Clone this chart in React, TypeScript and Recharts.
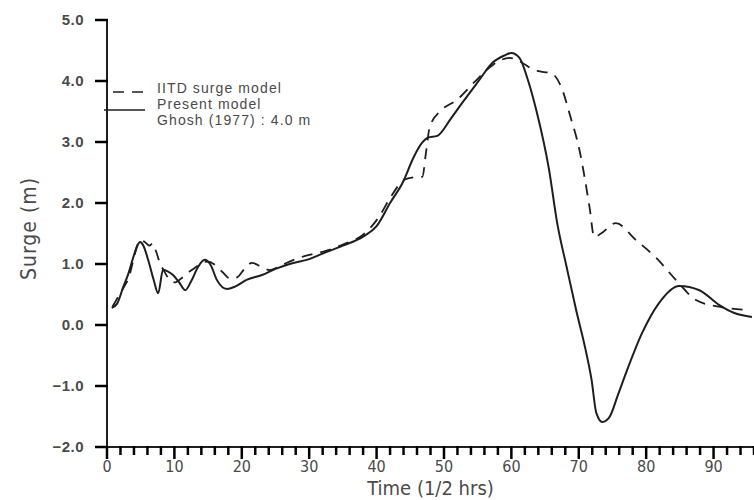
import React from "react";
import { LineChart, Line, XAxis, YAxis, Legend } from "recharts";

// IITD surge model (dashed)
const iitdTime = [
  0.8, 1.6, 2.5, 3.3, 4.1, 4.9, 5.6, 6.3, 6.8, 7.3, 7.8, 8.5, 9.3, 10.1, 11.2,
  12.3, 13.2, 14.2, 15, 16.1, 17.2, 18.3, 19.3, 20.4, 21.5, 22.8, 24.1, 25.4,
  26.7, 28.5, 30, 32, 35, 38, 40.4, 42, 44.1, 45.5, 46.8, 47.3, 47.9, 49.6,
  51.9, 54.5, 57.2, 59.7, 61.6, 63, 64.6, 65.9, 67.4, 68.8, 70.1, 71.6, 72.3,
  73.3, 75.5, 78.5, 81.5, 84.4, 87.4, 90.8, 94.8,
];
const iitdSurge = [
  0.3, 0.45, 0.62, 0.8, 1.15, 1.39, 1.36, 1.3, 1.34, 1.2, 1.03, 0.88, 0.74, 0.7,
  0.78, 0.88, 0.95, 1.03, 1.04, 0.98, 0.86, 0.76, 0.78, 0.92, 1.02, 0.96, 0.9,
  0.95, 1.02, 1.1, 1.15, 1.2, 1.32, 1.48, 1.78, 2.08, 2.38, 2.42, 2.43, 2.8,
  3.25, 3.52, 3.69, 3.98, 4.26, 4.38, 4.3, 4.2, 4.15, 4.13, 3.9, 3.4, 2.87,
  1.93, 1.44, 1.5, 1.67, 1.39, 1.1, 0.74, 0.41, 0.3, 0.25,
];

// Present model (solid)
const presentTime = [
  0.7, 1.5, 2.4, 3.2, 3.9, 4.5, 4.9, 5.4, 6.1, 6.9, 7.6, 8.3, 9.0, 9.8, 10.7,
  11.6, 12.5, 13.5, 14.5, 15.4, 16.3, 17.8, 19, 20.7, 23, 25, 27.1, 30, 32, 35,
  38, 40, 42, 43.9, 45.5, 46.7, 47.6, 49, 51, 52.7, 55, 57.2, 59, 60, 61.2,
  62.5, 63.7, 65.6, 66.8, 68.2, 69.6, 71, 71.9, 72.6, 73.5, 74.5, 75.8, 77,
  79.4, 81.9, 84.9, 87.9, 90.8, 93, 95.7,
];
const presentSurge = [
  0.28, 0.35, 0.62, 0.85, 1.11, 1.3, 1.36, 1.3, 1.07, 0.75, 0.52, 0.9, 0.88,
  0.82, 0.7, 0.57, 0.72, 0.95, 1.07, 0.98, 0.74, 0.59, 0.63, 0.74, 0.82, 0.92,
  1.0, 1.08, 1.17, 1.3, 1.45, 1.62, 2.0, 2.34, 2.75, 2.98, 3.07, 3.1, 3.38,
  3.64, 3.98, 4.3, 4.42, 4.46, 4.38, 4.0, 3.52, 2.54, 1.67, 0.95, 0.25, -0.4,
  -0.9, -1.44, -1.59, -1.52, -1.15, -0.79, -0.13, 0.36, 0.64, 0.57, 0.33, 0.2,
  0.13,
];

const yTicks = [-2, -1, 0, 1, 2, 3, 4, 5];
const xTicks = Array.from({ length: 49 }, (_, i) => i * 2);

const iitdData = iitdTime.map((t, i) => ({ t, v: iitdSurge[i] }));
const presentData = presentTime.map((t, i) => ({ t, v: presentSurge[i] }));

const ink = "#1e1e1e";
const tickInk = "#000";
const textGrey = "#4a4a4a";
const font = "'Liberation Sans', Arial, sans-serif";
const narrow = "'Liberation Sans Narrow', 'DejaVu Sans Condensed', 'Liberation Sans', sans-serif";

// tick marks drawn here: y is the axis line (tickSize/tickMargin are 0)
const TimeTick = (props: any) => {
  const { x, y, payload } = props;
  const major = payload.value % 10 === 0;
  return (
    <g>
      <line x1={x} y1={y - 1} x2={x} y2={y + (major ? 12 : 8)} stroke={tickInk} strokeWidth={2.5} />
      {major && (
        <text x={x} y={y + 25} textAnchor="middle" fill={textGrey} fontSize={16} fontFamily={narrow}>
          {payload.value}
        </text>
      )}
    </g>
  );
};

const SurgeTick = (props: any) => {
  const { x, y, payload } = props;
  const v = payload.value as number;
  const txt = v < 0 ? "\u2212" + Math.abs(v).toFixed(1) : v.toFixed(1);
  return (
    <g>
      <line x1={x - 12} y1={y} x2={x + 1} y2={y} stroke={tickInk} strokeWidth={2.5} />
      <text
        x={x - 23}
        y={y}
        dy="0.35em"
        textAnchor="end"
        fill={textGrey}
        fontSize={15}
        fontWeight={700}
        fontFamily={font}
        letterSpacing={0.5}
      >
        {txt}
      </text>
    </g>
  );
};

const SurgeLabel = (props: any) => {
  const vb = props.viewBox || { x: 0, y: 20, height: 427 };
  const cx = 29;
  const cy = vb.y + vb.height / 2 - 5;
  return (
    <text
      x={cx}
      y={cy}
      transform={`rotate(-90, ${cx}, ${cy})`}
      textAnchor="middle"
      dominantBaseline="central"
      fill={textGrey}
      fontSize={21}
      fontFamily={narrow}
      letterSpacing={1}
    >
      Surge  (m)
    </text>
  );
};

const renderLegend = () => (
  <div style={{ fontFamily: font, fontSize: 14, color: textGrey, letterSpacing: 1.1 }}>
    <svg width={54} height={44} style={{ position: "absolute", left: 0, top: 0 }}>
      <line x1={9} y1={12} x2={41} y2={12} stroke={ink} strokeWidth={1.6} strokeDasharray="11 8" />
      <line x1={0} y1={30} x2={41} y2={30} stroke={ink} strokeWidth={1.6} />
    </svg>
    <div style={{ position: "absolute", left: 53, top: 0, lineHeight: "16px", whiteSpace: "nowrap" }}>
      <div>IITD surge model</div>
      <div>Present model</div>
      <div>Ghosh (1977) : 4.0 m</div>
    </div>
  </div>
);

export default function App() {
  return (
    <div style={{ position: "absolute", left: 0, top: 0 }}>
      <LineChart width={754} height={500} margin={{ top: 20, right: 0, left: 0, bottom: 0 }}>
        <XAxis
          type="number"
          dataKey="t"
          domain={[0, 96]}
          ticks={xTicks}
          interval={0}
          allowDataOverflow
          height={53}
          tickSize={0}
          tickMargin={0}
          tick={<TimeTick />}
          tickLine={false}
          axisLine={{ stroke: ink, strokeWidth: 2 }}
          label={{
            value: "Time  (1/2  hrs)",
            position: "insideBottom",
            offset: 5,
            fill: textGrey,
            fontSize: 20,
            fontFamily: narrow,
          }}
        />
        <YAxis
          type="number"
          dataKey="v"
          domain={[-2, 5]}
          ticks={yTicks}
          interval={0}
          width={107}
          tickSize={0}
          tickMargin={0}
          tick={<SurgeTick />}
          tickLine={false}
          axisLine={{ stroke: ink, strokeWidth: 2 }}
          label={<SurgeLabel />}
        />
        <Legend
          layout="vertical"
          align="center"
          verticalAlign="middle"
          content={renderLegend}
          wrapperStyle={{ position: "absolute", left: 104, top: 80, width: 300, height: 50 }}
        />
        <Line
          data={iitdData}
          dataKey="v"
          name="IITD surge model"
          type="monotone"
          stroke={ink}
          strokeWidth={1.8}
          strokeDasharray="11 8"
          dot={false}
          isAnimationActive={false}
        />
        <Line
          data={presentData}
          dataKey="v"
          name="Present model"
          type="monotone"
          stroke={ink}
          strokeWidth={2}
          dot={false}
          isAnimationActive={false}
        />
      </LineChart>
    </div>
  );
}
